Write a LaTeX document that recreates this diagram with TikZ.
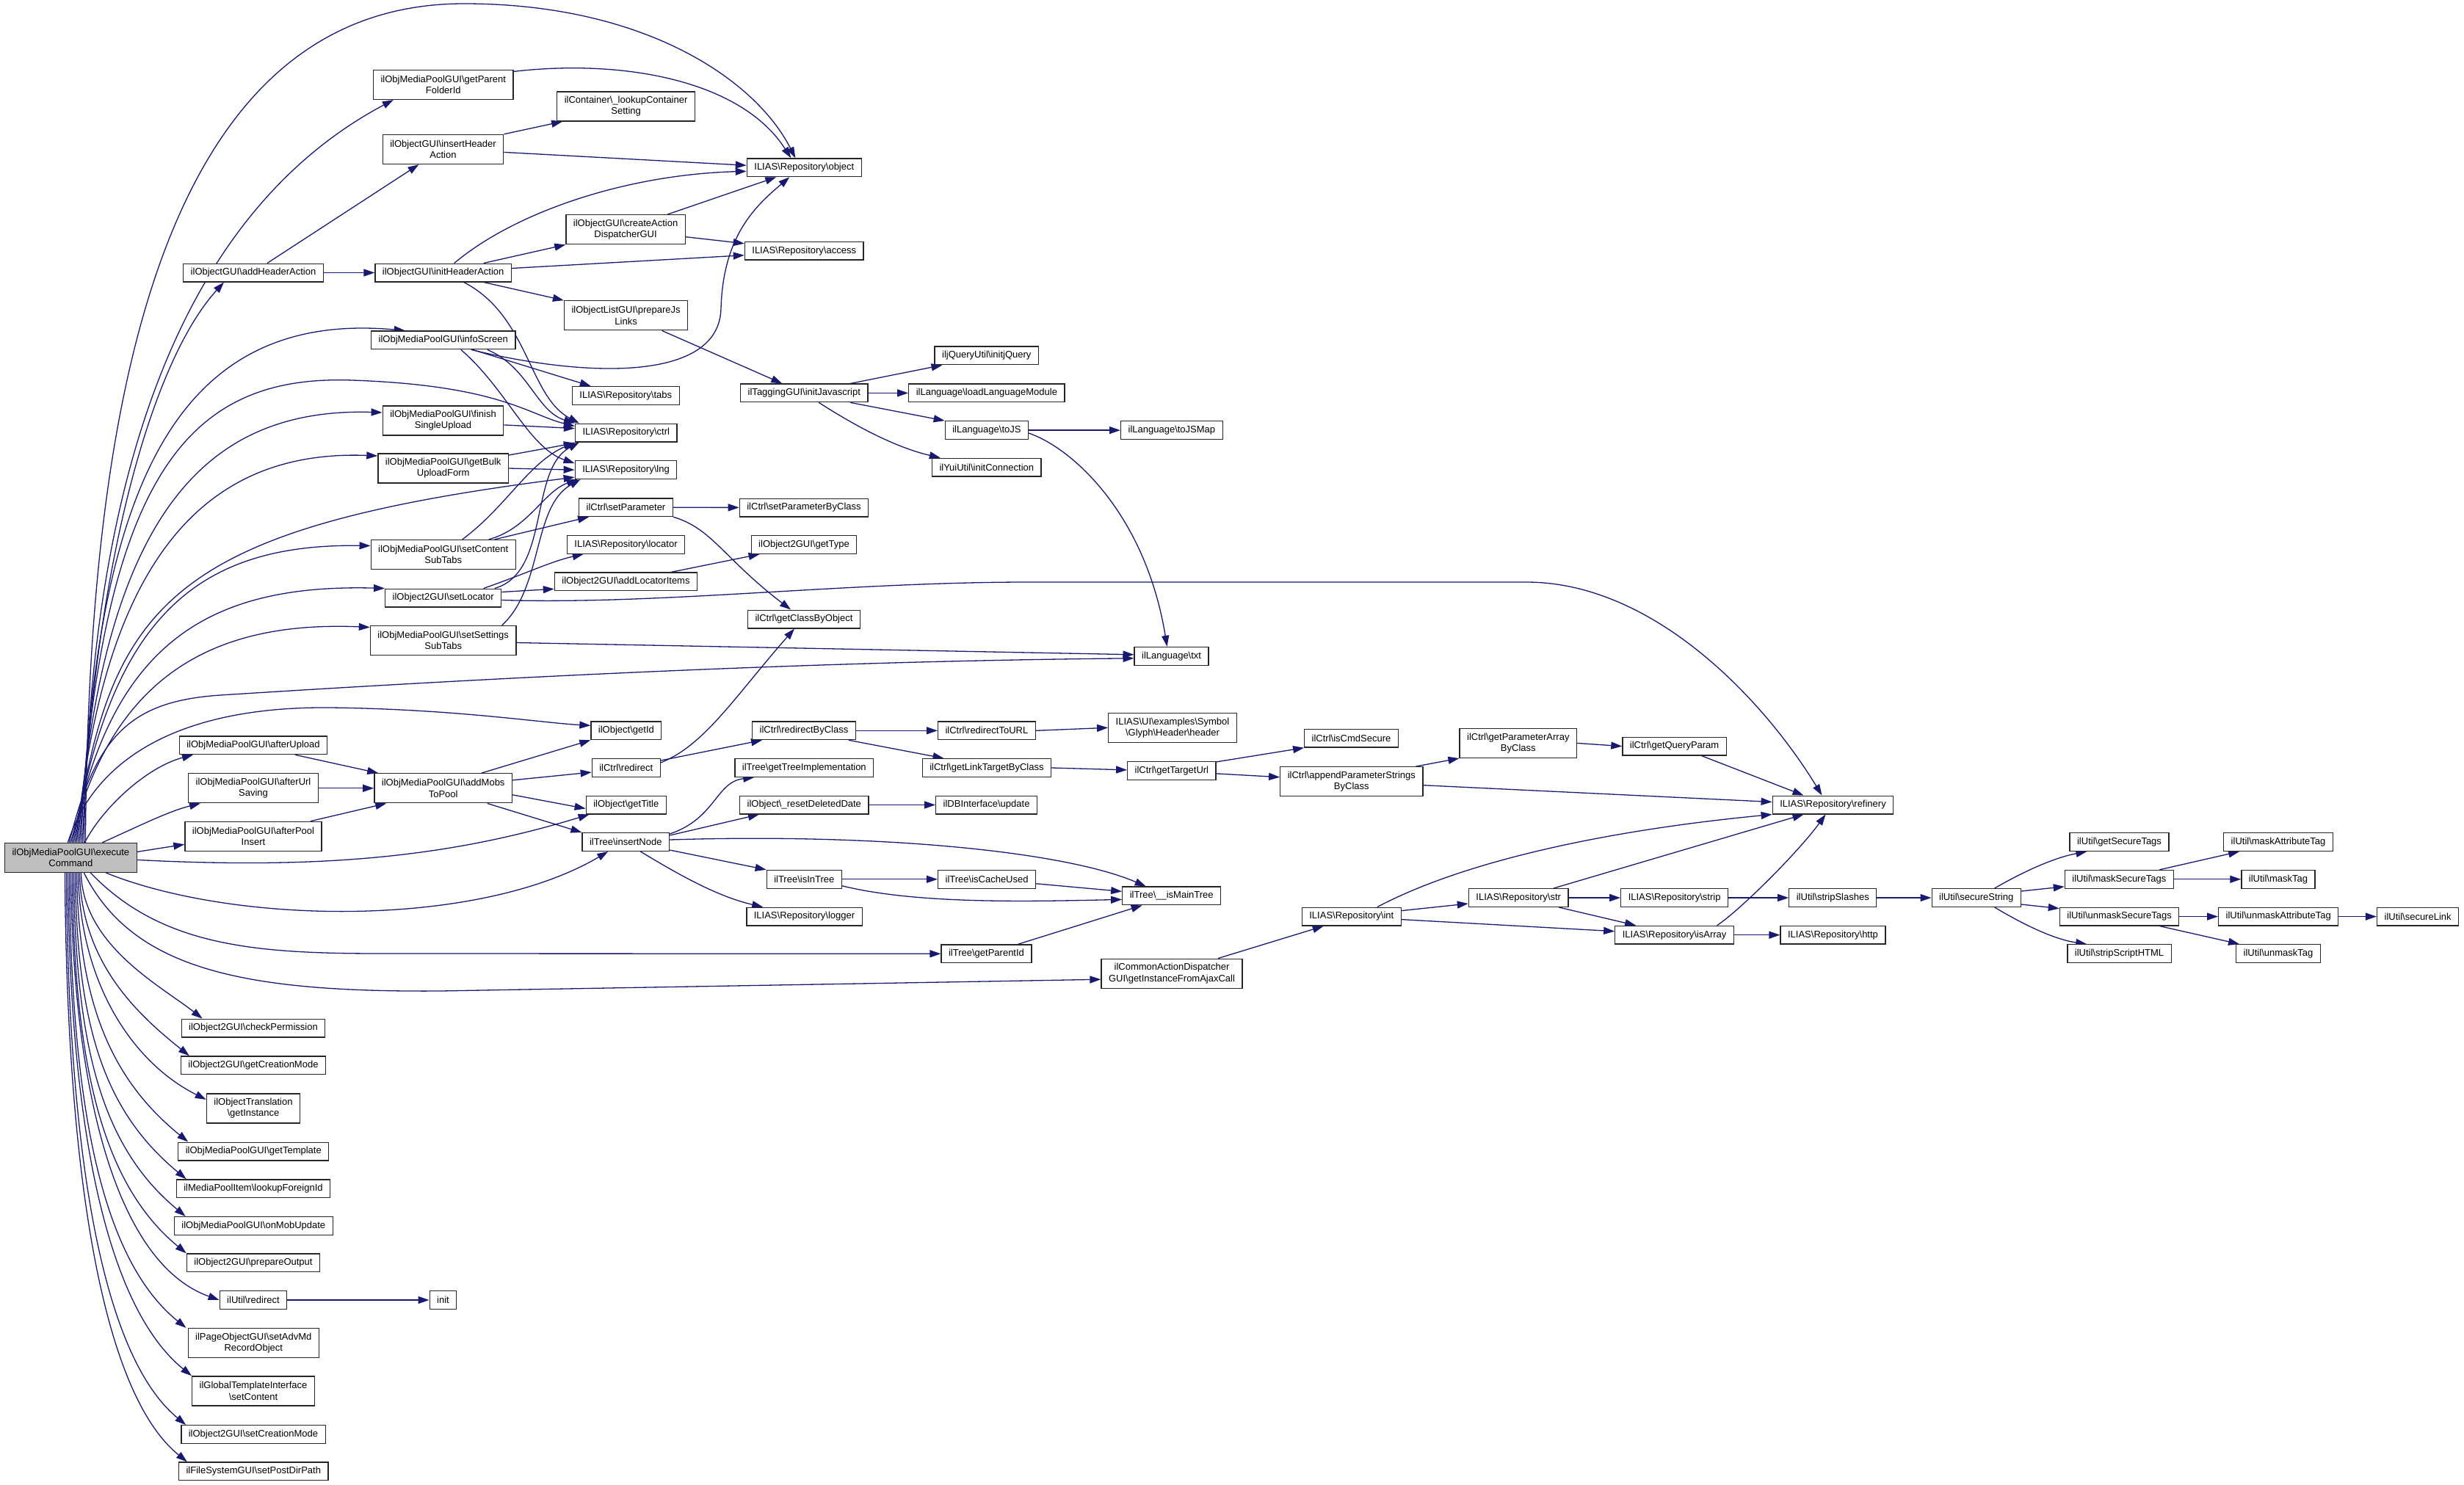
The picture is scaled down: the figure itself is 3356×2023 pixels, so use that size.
\documentclass[tikz,border=0pt]{standalone}
\usepackage{fontspec}
\setmainfont{Liberation Sans}
\usetikzlibrary{arrows.meta}
\definecolor{edgeblue}{HTML}{191970}
\definecolor{rootgray}{HTML}{BFBFBF}
\newcommand{\bsl}{\textbackslash{}}
\pgfdeclarelayer{bg}
\pgfsetlayers{bg,main}

\begin{document}
\begin{tikzpicture}[x=1pt, y=-1pt,
      font=\fontsize{13pt}{15.2pt}\selectfont,
      fnbox/.style={draw=black!85, line width=1.3pt, fill=white, align=center,
                    inner xsep=10pt, inner ysep=2pt, minimum height=24.7pt},
      twol/.style={minimum height=40pt},
      mainfn/.style={fill=rootgray},
      call/.style={-{Triangle[length=15pt,width=10pt]}, color=edgeblue, line width=1.3pt}
    ]
    \useasboundingbox (0,0) rectangle (3356,2023);

    % ---- caller ----
    \node[fnbox, twol, mainfn] (ec) at (96.4,1168.4) {ilObjMediaPoolGUI\bsl execute\\Command};

    % ---- first level ----
    \node[fnbox] (addHdr) at (345,371.5) {ilObjectGUI\bsl addHeaderAction};
    \node[fnbox] (aUp) at (345,1015.3) {ilObjMediaPoolGUI\bsl afterUpload};
    \node[fnbox, twol] (aUrl) at (345,1073.8) {ilObjMediaPoolGUI\bsl afterUrl\\Saving};
    \node[fnbox, twol] (aPool) at (345,1139.3) {ilObjMediaPoolGUI\bsl afterPool\\Insert};
    \node[fnbox] (chkPerm) at (345,1400.6) {ilObject2GUI\bsl checkPermission};
    \node[fnbox] (getCrM) at (345,1451.3) {ilObject2GUI\bsl getCreationMode};
    \node[fnbox, twol] (trInst) at (345,1509.9) {ilObjectTranslation\\\bsl getInstance};
    \node[fnbox] (getTpl) at (345.3,1568.5) {ilObjMediaPoolGUI\bsl getTemplate};
    \node[fnbox] (lkpFor) at (345,1619.2) {ilMediaPoolItem\bsl lookupForeignId};
    \node[fnbox] (onMob) at (345.3,1670) {ilObjMediaPoolGUI\bsl onMobUpdate};
    \node[fnbox] (prepOut) at (345,1720.3) {ilObject2GUI\bsl prepareOutput};
    \node[fnbox] (utRedir) at (345,1771) {ilUtil\bsl redirect};
    \node[fnbox, twol] (advMd) at (345.3,1829.6) {ilPageObjectGUI\bsl setAdvMd\\RecordObject};
    \node[fnbox, twol] (tplCont) at (345,1894.9) {ilGlobalTemplateInterface\\\bsl setContent};
    \node[fnbox] (setCrM) at (345,1954.1) {ilObject2GUI\bsl setCreationMode};
    \node[fnbox] (postDir) at (345.3,2004.4) {ilFileSystemGUI\bsl setPostDirPath};

    % ---- second level ----
    \node[fnbox, twol] (parFold) at (603.8,115.4) {ilObjMediaPoolGUI\bsl getParent\\FolderId};
    \node[fnbox, twol] (insHdr) at (603.5,203.4) {ilObjectGUI\bsl insertHeader\\Action};
    \node[fnbox] (initHdr) at (603.7,371.5) {ilObjectGUI\bsl initHeaderAction};
    \node[fnbox] (info) at (603.8,463.4) {ilObjMediaPoolGUI\bsl infoScreen};
    \node[fnbox, twol] (finish) at (603.5,572.9) {ilObjMediaPoolGUI\bsl finish\\SingleUpload};
    \node[fnbox, twol] (bulk) at (603.7,638) {ilObjMediaPoolGUI\bsl getBulk\\UploadForm};
    \node[fnbox, twol] (contTabs) at (603.7,755.5) {ilObjMediaPoolGUI\bsl setContent\\SubTabs};
    \node[fnbox] (setLoc) at (603.7,814.5) {ilObject2GUI\bsl setLocator};
    \node[fnbox, twol] (setTabs) at (603.7,872.5) {ilObjMediaPoolGUI\bsl setSettings\\SubTabs};
    \node[fnbox, twol] (addMobs) at (603.7,1073.8) {ilObjMediaPoolGUI\bsl addMobs\\ToPool};
    \node[fnbox] (init) at (603.5,1771) {init};

    % ---- third level ----
    \node[fnbox, twol] (lkpCont) at (852.6,144.9) {ilContainer\bsl\_lookupContainer\\Setting};
    \node[fnbox, twol] (crtDisp) at (852.1,312.7) {ilObjectGUI\bsl createAction\\DispatcherGUI};
    \node[fnbox, twol] (jsLinks) at (852.6,429.8) {ilObjectListGUI\bsl prepareJs\\Links};
    \node[fnbox] (tabs) at (852.3,539) {ILIAS\bsl Repository\bsl tabs};
    \node[fnbox] (ctrl) at (852.8,589.6) {ILIAS\bsl Repository\bsl ctrl};
    \node[fnbox] (lng) at (852.5,640.1) {ILIAS\bsl Repository\bsl lng};
    \node[fnbox] (setPar) at (852.5,691.2) {ilCtrl\bsl setParameter};
    \node[fnbox] (locator) at (852.5,741.8) {ILIAS\bsl Repository\bsl locator};
    \node[fnbox] (addLocIt) at (852.5,792.3) {ilObject2GUI\bsl addLocatorItems};
    \node[fnbox] (getId) at (852.9,995.3) {ilObject\bsl getId};
    \node[fnbox] (redir) at (852.8,1046) {ilCtrl\bsl redirect};
    \node[fnbox] (getTitle) at (852.8,1096.5) {ilObject\bsl getTitle};
    \node[fnbox] (insNode) at (852.3,1147) {ilTree\bsl insertNode};

    % ---- fourth level ----
    \node[fnbox] (object) at (1095.3,228.3) {ILIAS\bsl Repository\bsl object};
    \node[fnbox] (access) at (1095.2,341.7) {ILIAS\bsl Repository\bsl access};
    \node[fnbox] (initJs) at (1095.3,535.4) {ilTaggingGUI\bsl initJavascript};
    \node[fnbox] (setParCl) at (1095,691.5) {ilCtrl\bsl setParameterByClass};
    \node[fnbox] (getType) at (1095,742) {ilObject2GUI\bsl getType};
    \node[fnbox] (clsByObj) at (1095,843.5) {ilCtrl\bsl getClassByObject};
    \node[fnbox] (redirCl) at (1095,995.3) {ilCtrl\bsl redirectByClass};
    \node[fnbox] (treeImpl) at (1095.3,1046) {ilTree\bsl getTreeImplementation};
    \node[fnbox] (resetDel) at (1095.3,1096.5) {ilObject\bsl\_resetDeletedDate};
    \node[fnbox] (isInTree) at (1095.3,1197.8) {ilTree\bsl isInTree};
    \node[fnbox] (logger) at (1095.5,1248.6) {ILIAS\bsl Repository\bsl logger};

    % ---- fifth level ----
    \node[fnbox] (jQuery) at (1343.8,484.4) {iljQueryUtil\bsl initjQuery};
    \node[fnbox] (loadLM) at (1343.9,535.4) {ilLanguage\bsl loadLanguageModule};
    \node[fnbox] (toJS) at (1343.9,586.1) {ilLanguage\bsl toJS};
    \node[fnbox] (initConn) at (1343.8,636.6) {ilYuiUtil\bsl initConnection};
    \node[fnbox] (redirURL) at (1343.9,995.3) {ilCtrl\bsl redirectToURL};
    \node[fnbox] (linkTgt) at (1343.9,1046) {ilCtrl\bsl getLinkTargetByClass};
    \node[fnbox] (dbUpd) at (1343.6,1096.5) {ilDBInterface\bsl update};
    \node[fnbox] (cacheU) at (1344.1,1197.8) {ilTree\bsl isCacheUsed};
    \node[fnbox] (parId) at (1343.5,1299.3) {ilTree\bsl getParentId};

    % ---- sixth level ----
    \node[fnbox] (toJSMap) at (1595.9,586.1) {ilLanguage\bsl toJSMap};
    \node[fnbox] (txt) at (1595.6,893.8) {ilLanguage\bsl txt};
    \node[fnbox, twol] (header) at (1597,991.3) {ILIAS\bsl UI\bsl examples\bsl Symbol\\\bsl Glyph\bsl Header\bsl header};
    \node[fnbox] (tgtUrl) at (1595.9,1049.9) {ilCtrl\bsl getTargetUrl};
    \node[fnbox] (mainTree) at (1595.7,1220.4) {ilTree\bsl\_\_isMainTree};
    \node[fnbox, twol] (ajax) at (1596,1326.2) {ilCommonActionDispatcher\\GUI\bsl getInstanceFromAjaxCall};

    % ---- right part ----
    \node[fnbox] (cmdSec) at (1840.5,1005.7) {ilCtrl\bsl isCmdSecure};
    \node[fnbox, twol] (appPar) at (1840.8,1064.7) {ilCtrl\bsl appendParameterStrings\\ByClass};
    \node[fnbox] (int) at (1840.8,1248.6) {ILIAS\bsl Repository\bsl int};
    \node[fnbox, twol] (parArr) at (2067.8,1012.4) {ilCtrl\bsl getParameterArray\\ByClass};
    \node[fnbox] (str) at (2068.2,1223) {ILIAS\bsl Repository\bsl str};
    \node[fnbox] (qParam) at (2280.6,1016.6) {ilCtrl\bsl getQueryParam};
    \node[fnbox] (strip) at (2280.6,1223) {ILIAS\bsl Repository\bsl strip};
    \node[fnbox] (isArr) at (2280.6,1273.7) {ILIAS\bsl Repository\bsl isArray};
    \node[fnbox] (refinery) at (2496.5,1096.5) {ILIAS\bsl Repository\bsl refinery};
    \node[fnbox] (strSl) at (2496.3,1223) {ilUtil\bsl stripSlashes};
    \node[fnbox] (http) at (2496.5,1273.7) {ILIAS\bsl Repository\bsl http};
    \node[fnbox] (secStr) at (2691.7,1223) {ilUtil\bsl secureString};
    \node[fnbox] (getSecT) at (2886.5,1147) {ilUtil\bsl getSecureTags};
    \node[fnbox] (maskSecT) at (2886.3,1197.8) {ilUtil\bsl maskSecureTags};
    \node[fnbox] (unmSecT) at (2886.6,1248.6) {ilUtil\bsl unmaskSecureTags};
    \node[fnbox] (stripHTML) at (2886.5,1299.1) {ilUtil\bsl stripScriptHTML};
    \node[fnbox] (maskAttr) at (3103,1147) {ilUtil\bsl maskAttributeTag};
    \node[fnbox] (maskTag) at (3103,1197.8) {ilUtil\bsl maskTag};
    \node[fnbox] (unmAttr) at (3103.2,1248.6) {ilUtil\bsl unmaskAttributeTag};
    \node[fnbox] (unmTag) at (3103,1299.1) {ilUtil\bsl unmaskTag};
    \node[fnbox] (secLink) at (3293.1,1248.6) {ilUtil\bsl secureLink};

    \begin{pgfonlayer}{bg}
    % ---- calls of executeCommand, upper fan ----
    \draw[call] ([xshift=20]ec.north) .. controls (120,600) and (200,5) .. (632,5)
      .. controls (880,5) and (1030,110) .. ([xshift=-12]object.north);
    \draw[call] ([xshift=18]ec.north) .. controls (120,780) and (190,320) .. ([xshift=-68]parFold.south);
    \draw[call] ([xshift=16]ec.north) .. controls (125,800) and (200,500) .. ([xshift=-40]addHdr.south);
    \draw[call] ([xshift=14]ec.north) .. controls (130,700) and (220,420) .. ([xshift=-52]info.north);
    \draw[call] ([xshift=12]ec.north) .. controls (140,640) and (260,510) .. (480,518)
      .. controls (680,525) and (720,565) .. ([yshift=9]ctrl.west);
    \draw[call] ([xshift=10]ec.north) .. controls (140,700) and (280,555) .. ([yshift=11]finish.west);
    \draw[call] ([xshift=8]ec.north) .. controls (140,760) and (280,612) .. ([yshift=17]bulk.west);
    \draw[call] ([xshift=6]ec.north) .. controls (150,820) and (230,720) .. ([yshift=-10]lng.west);
    \draw[call] ([xshift=4]ec.north) .. controls (150,850) and (260,740) .. ([yshift=12]contTabs.west);
    \draw[call] ([xshift=2]ec.north) .. controls (150,880) and (280,795) .. (setLoc.north west);
    \draw[call] (ec.north) .. controls (150,930) and (280,845) .. ([yshift=18]setTabs.west);
    \draw[call] ([xshift=-2]ec.north) .. controls (130,1000) and (180,955) .. (300,947)
      .. controls (800,915) and (1200,900) .. ([yshift=-3]txt.west);
    \draw[call] ([xshift=-4]ec.north) .. controls (130,1030) and (250,962) .. (450,964)
      .. controls (620,966) and (740,985) .. ([yshift=7]getId.west);
    \draw[call] ([xshift=19]ec.north) .. controls (140,1100) and (200,1045) .. ([xshift=-82]aUp.south);
    \draw[call] ([xshift=43]ec.north) .. controls (190,1125) and (230,1105) .. ([xshift=-72]aUrl.south);
    \draw[call] ([yshift=8]ec.east) -- ([yshift=-11]aPool.west);
    \draw[call] ([yshift=-3]ec.east) .. controls (450,1185) and (620,1165) .. ([xshift=5]getTitle.south west);

    % ---- calls of executeCommand, lower fan ----
    \draw[call] ([xshift=48]ec.south) .. controls (320,1260) and (650,1265) .. ([xshift=-24]insNode.south);
    \draw[call] ([xshift=27]ec.south) .. controls (220,1290) and (350,1299) .. (520,1299) -- (parId.west);
    \draw[call] ([xshift=18]ec.south) .. controls (180,1320) and (330,1352) .. (600,1350) -- ([yshift=-8]ajax.west);
    \draw[call] ([xshift=14]ec.south) .. controls (113,1288) and (219,1343) .. ([xshift=29]chkPerm.north west);
    \draw[call] ([xshift=12]ec.south) .. controls (111,1313) and (189,1383) .. ([xshift=12]getCrM.north west);
    \draw[call] ([xshift=10]ec.south) .. controls (109,1343) and (183,1449) .. ([yshift=12]trInst.west);
    \draw[call] ([xshift=8]ec.south) .. controls (107,1372) and (155,1473) .. ([xshift=14]getTpl.north west);
    \draw[call] ([xshift=6]ec.south) .. controls (105,1397) and (141,1513) .. ([xshift=14]lkpFor.north west);
    \draw[call] ([xshift=4]ec.south) .. controls (103,1423) and (137,1561) .. ([xshift=16]onMob.north west);
    \draw[call] ([xshift=2]ec.south) .. controls (101,1448) and (138,1612) .. (prepOut.north west);
    \draw[call] (ec.south) .. controls (99,1480) and (156,1720) .. (utRedir.west);
    \draw[call] ([xshift=-2]ec.south) .. controls (97,1499) and (136,1714) .. ([xshift=-2]advMd.north west);
    \draw[call] ([xshift=-4]ec.south) .. controls (95,1531) and (144,1779) .. (tplCont.north west);
    \draw[call] ([xshift=-6]ec.south) .. controls (93,1565) and (137,1845) .. ([xshift=7]setCrM.north west);
    \draw[call] ([xshift=-8]ec.south) .. controls (91,1590) and (137,1896) .. ([xshift=12]postDir.north west);

    % ---- header action ----
    \draw[call] ([yshift=18]parFold.east) .. controls (850,80) and (1010,110) .. ([xshift=-18]object.north);
    \draw[call] (insHdr.north east) -- ([xshift=8]lkpCont.south west);
    \draw[call] ([yshift=-4]insHdr.east) -- ([yshift=3]object.west);
    \draw[call] ([xshift=19]addHdr.north) -- ([xshift=-33]insHdr.south);
    \draw[call] (addHdr) -- (initHdr);
    \draw[call] ([xshift=15]initHdr.north) .. controls (700,290) and (850,238) .. ([yshift=-5]object.west);
    \draw[call] ([xshift=55]initHdr.north) -- (crtDisp.south west);
    \draw[call] ([yshift=6]initHdr.east) -- ([yshift=-6]access.west);
    \draw[call] ([xshift=55]initHdr.south) -- (jsLinks.north west);
    \draw[call] ([xshift=28]initHdr.south) .. controls (720,430) and (720,540) .. ([xshift=6]ctrl.north west);
    \draw[call] ([xshift=57]crtDisp.north) -- ([xshift=-38]object.south);
    \draw[call] ([yshift=-10]crtDisp.east) -- ([yshift=10]access.west);
    \draw[call] ([xshift=49]jsLinks.south) -- ([xshift=-30]initJs.north);

    % ---- screens and tabs ----
    \draw[call] ([xshift=38]info.south) .. controls (800,515) and (980,520) .. (982,420)
      .. controls (985,320) and (1030,280) .. ([xshift=-20]object.south);
    \draw[call] ([xshift=40]info.south) -- ([xshift=26]tabs.north west);
    \draw[call] ([xshift=60]info.south) .. controls (720,500) and (730,560) .. (ctrl.north west);
    \draw[call] ([xshift=24]info.south) .. controls (690,530) and (720,610) .. ([yshift=9]lng.west);
    \draw[call] ([yshift=-6]finish.east) -- ([yshift=6]ctrl.west);
    \draw[call] ([yshift=18]bulk.east) -- ([yshift=-14]ctrl.west);
    \draw[call] (bulk.east) -- (lng.west);
    \draw[call] ([xshift=26]contTabs.north) .. controls (690,690) and (720,630) .. (ctrl.south west);
    \draw[call] ([xshift=62]contTabs.north) .. controls (720,720) and (740,670) .. ([xshift=4]lng.south west);
    \draw[call] ([xshift=70]contTabs.north) -- ([xshift=14]setPar.south west);
    \draw[call] ([xshift=55]setLoc.north) .. controls (720,780) and (750,765) .. ([xshift=23]locator.south west);
    \draw[call] ([yshift=8]setLoc.east) -- ([yshift=-10]addLocIt.west);
    \draw[call] ([xshift=70]setLoc.north) .. controls (750,780) and (720,640) .. ([xshift=6]ctrl.south west);
    \draw[call] ([yshift=-3]setLoc.east) .. controls (900,824) and (1150,793) .. (1400,793) -- (2079,793)
      .. controls (2250,793) and (2400,950) .. ([xshift=-15]refinery.north);
    \draw[call] ([xshift=80]setTabs.north) .. controls (740,800) and (725,690) .. ([xshift=8]lng.south west);
    \draw[call] ([yshift=-3]setTabs.east) -- ([yshift=2]txt.west);
    \draw[call] (setPar) -- (setParCl);
    \draw[call] (setPar.south east) .. controls (970,720) and (985,760) .. ([xshift=-18]clsByObj.north);
    \draw[call] ([xshift=62]addLocIt.north) -- ([xshift=12]getType.south west);

    % ---- javascript ----
    \draw[call] ([xshift=63]initJs.north) -- ([xshift=11]jQuery.south west);
    \draw[call] (initJs) -- (loadLM);
    \draw[call] ([xshift=63]initJs.south) -- (toJS.north west);
    \draw[call] ([xshift=20]initJs.south) .. controls (1180,590) and (1230,612) .. ([xshift=12]initConn.north west);
    \draw[call] (toJS) -- (toJSMap);
    \draw[call] ([yshift=-4]toJS.east) .. controls (1460,610) and (1560,700) .. ([xshift=-6]txt.north);

    % ---- adding mobs ----
    \draw[call] ([xshift=57]aUp.south) -- ([xshift=6]addMobs.north west);
    \draw[call] (aUrl.east) -- (addMobs.west);
    \draw[call] ([xshift=78]aPool.north) -- ([xshift=17]addMobs.south west);
    \draw[call] ([xshift=52]addMobs.north) -- (getId.south west);
    \draw[call] ([yshift=11]addMobs.east) -- ([yshift=-6]redir.west);
    \draw[call] ([yshift=-9]addMobs.east) -- ([yshift=-5]getTitle.west);
    \draw[call] ([xshift=60]addMobs.south) -- (insNode.north west);
    \draw[call] ([yshift=10]redir.east) -- ([xshift=14]redirCl.south west);
    \draw[call] ([yshift=7]redir.east) .. controls (960,1015) and (1000,950) .. ([xshift=-13]clsByObj.south);
    \draw[call] (redirCl) -- (redirURL);
    \draw[call] ([xshift=-10]redirCl.south east) -- ([xshift=30]linkTgt.north west);
    \draw[call] (redirURL.east) -- (header.west);
    \draw[call] (linkTgt.east) -- ([yshift=1]tgtUrl.west);
    \draw[call] ([yshift=12]tgtUrl.east) -- (cmdSec.south west);
    \draw[call] ([yshift=-4]tgtUrl.east) -- ([yshift=6]appPar.west);
    \draw[call] ([xshift=-10]appPar.north east) -- (parArr.south west);
    \draw[call] ([yshift=-5]appPar.east) -- ([yshift=4]refinery.west);
    \draw[call] (parArr.east) -- (qParam.west);
    \draw[call] ([xshift=37]qParam.south) -- ([xshift=-40]refinery.north);

    % ---- tree ----
    \draw[call] ([yshift=11]insNode.east) .. controls (975,1115) and (975,1065) .. ([xshift=27]treeImpl.south west);
    \draw[call] ([yshift=9]insNode.east) -- ([xshift=27]resetDel.south west);
    \draw[call] ([yshift=3]insNode.east) .. controls (1200,1135) and (1450,1160) .. ([xshift=-35]mainTree.north);
    \draw[call] ([yshift=-11]insNode.east) -- (isInTree.north west);
    \draw[call] ([xshift=20]insNode.south) .. controls (930,1195) and (980,1222) .. ([xshift=23]logger.north west);
    \draw[call] (resetDel) -- (dbUpd);
    \draw[call] (isInTree) -- (cacheU);
    \draw[call] ([yshift=-9]isInTree.east) .. controls (1250,1232) and (1400,1228) .. ([yshift=-5]mainTree.west);
    \draw[call] ([yshift=-6]cacheU.east) -- ([yshift=6]mainTree.west);
    \draw[call] ([xshift=43]parId.north) -- ([xshift=-40]mainTree.south);

    % ---- refinery and strings ----
    \draw[call] ([xshift=63]ajax.north) -- ([xshift=30]int.south west);
    \draw[call] ([yshift=8]int.east) -- ([yshift=-8]str.west);
    \draw[call] ([yshift=-4]int.east) -- ([yshift=5]isArr.west);
    \draw[call] ([xshift=35]int.north) .. controls (2000,1170) and (2200,1130) .. (refinery.south west);
    \draw[call] (str) -- (strip);
    \draw[call] ([xshift=55]str.south) -- ([xshift=29]isArr.north west);
    \draw[call] ([xshift=48]str.north) -- ([xshift=-40]refinery.south);
    \draw[call] (strip) -- (strSl);
    \draw[call] (isArr) -- (http);
    \draw[call] ([xshift=58]isArr.north) .. controls (2370,1240) and (2450,1160) .. ([xshift=-10]refinery.south);
    \draw[call] (strSl) -- (secStr);
    \draw[call] ([xshift=25]secStr.north) .. controls (2760,1185) and (2800,1168) .. ([xshift=24]getSecT.south west);
    \draw[call] ([yshift=9]secStr.east) -- ([yshift=-10]maskSecT.west);
    \draw[call] ([yshift=-9]secStr.east) -- ([yshift=11]unmSecT.west);
    \draw[call] ([xshift=25]secStr.south) .. controls (2760,1262) and (2800,1280) .. ([xshift=27]stripHTML.north west);
    \draw[call] ([xshift=55]maskSecT.north) -- ([xshift=22]maskAttr.south west);
    \draw[call] (maskSecT) -- (maskTag);
    \draw[call] (unmSecT) -- (unmAttr);
    \draw[call] ([xshift=55]unmSecT.south) -- ([xshift=5]unmTag.north west);
    \draw[call] (unmAttr) -- (secLink);
    \draw[call] (utRedir) -- (init);
    \end{pgfonlayer}
  \end{tikzpicture}
\end{document}
